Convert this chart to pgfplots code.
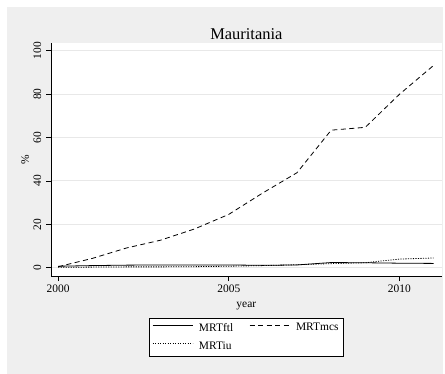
\documentclass[border=0pt]{standalone}
\usepackage{fontspec}
\setmainfont{Liberation Serif}
\usepackage{pgfplots}
\pgfplotsset{compat=1.18}
\definecolor{bggray}{RGB}{239,239,239}
\definecolor{gridgray}{RGB}{232,232,232}
\begin{document}
\begin{tikzpicture}
\fill[white] (-51bp,-98bp) rectangle (394bp,276bp);
\fill[bggray] (-44bp,-98bp) rectangle (392bp,269bp);
\begin{axis}[
  at={(0,0)}, anchor=south west,
  scale only axis, width=390.7bp, height=233.3bp,
  xmin=1999.79, xmax=2011.24, ymin=-3.8, ymax=103.7,
  axis background/.style={fill=white},
  axis lines=left, axis line style={-, black, line width=0.7bp},
  xtick={2000,2005,2010}, ytick={0,20,40,60,80,100},
  tick align=outside, major tick length=5bp,
  tick style={black, line width=0.7bp},
  ymajorgrids, grid style={gridgray, line width=0.9bp},
  /pgf/number format/assume math mode=true,
  /pgf/number format/1000 sep={},
  tick label style={font=\fontsize{11.5}{13}\selectfont},
  xticklabel style={anchor=base, yshift=-11bp},
  yticklabel style={xshift=-5bp, rotate=90, anchor=base},
  title={Mauritania},
  title style={at={(axis description cs:0.5,1)}, anchor=base, yshift=-3bp, font=\fontsize{16.5}{19}\selectfont},
  xlabel={year},
  every axis x label/.style={at={(axis description cs:0.5,0)}, anchor=base, yshift=-31bp, font=\fontsize{11.5}{13}\selectfont},
  ylabel={\%},
  every axis y label/.style={at={(axis description cs:0,0.5)}, xshift=-22bp, rotate=90, anchor=base, font=\fontsize{11.5}{13}\selectfont},
  legend columns=2,
  legend cell align=left,
  legend style={at={(axis description cs:0.5,-0.18)}, anchor=north, draw=black, fill=white,
    font=\fontsize{11.5}{13}\selectfont, inner xsep=3bp, inner ysep=3bp,
    /tikz/every odd column/.append style={column sep=4bp},
    /tikz/every even column/.append style={column sep=14bp},
    row sep=5bp},
  legend image code/.code={\draw[#1] (0bp,2.5bp) -- (40bp,2.5bp);},
]
\addplot[black, line width=0.8bp] coordinates {
(2000,0.7) (2001,1.0) (2002,1.2) (2003,1.3) (2004,1.3) (2005,1.3) (2006,1.1) (2007,1.3) (2008,2.4) (2009,2.3) (2010,2.1) (2011,2.0)};
\addlegendentry{MRTftl}
\addplot[black, line width=0.8bp, dash pattern=on 5bp off 3.5bp] coordinates {
(2000,0.5) (2001,4.3) (2002,9.1) (2003,12.7) (2004,17.9) (2005,24.6) (2006,34.5) (2007,43.8) (2008,63.4) (2009,64.7) (2010,79.9) (2011,93.2)};
\addlegendentry{MRTmcs}
\addplot[black, line width=0.8bp, dash pattern=on 1.1bp off 1.4bp] coordinates {
(2000,0.2) (2001,0.3) (2002,0.4) (2003,0.4) (2004,0.5) (2005,0.7) (2006,1.0) (2007,1.4) (2008,1.9) (2009,2.3) (2010,4.0) (2011,4.5)};
\addlegendentry{MRTiu}
\end{axis}
\end{tikzpicture}
\end{document}
